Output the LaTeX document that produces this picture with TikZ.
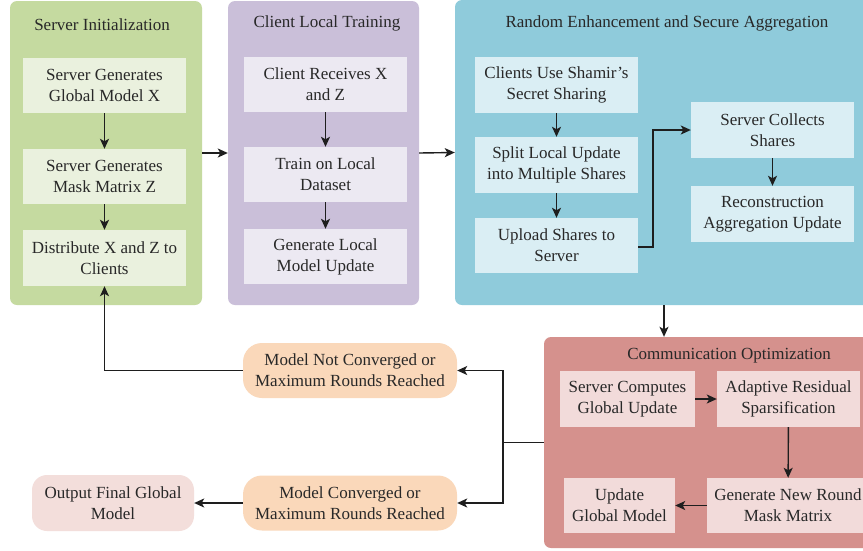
\documentclass[tikz,border=0pt]{standalone}
\usepackage{fontspec}
\setmainfont{Liberation Serif}
\usetikzlibrary{arrows.meta}
\definecolor{gpanel}{RGB}{197,218,160}
\definecolor{gbox}{RGB}{234,241,222}
\definecolor{ppanel}{RGB}{202,191,217}
\definecolor{pbox}{RGB}{236,233,242}
\definecolor{bpanel}{RGB}{143,203,219}
\definecolor{bbox}{RGB}{218,238,244}
\definecolor{rpanel}{RGB}{213,145,141}
\definecolor{rbox}{RGB}{242,219,218}
\definecolor{ovalfill}{RGB}{250,216,186}
\definecolor{outfill}{RGB}{243,222,219}
\definecolor{txt}{RGB}{40,40,40}
\definecolor{ln}{RGB}{30,30,30}
\tikzset{
  panel/.style={rounded corners=7pt, inner sep=0pt},
  ptitle/.style={text=txt, inner sep=0pt},
  stepbox/.style={inner sep=0pt, minimum width=163pt, minimum height=55pt, align=center, text=txt},
  pill/.style={inner sep=0pt, minimum width=214pt, minimum height=55pt, align=center, text=txt, fill=ovalfill, rounded corners=19pt},
  arr/.style={draw=ln, line width=1.4pt, -{Stealth[length=10pt,width=9pt,inset=2.5pt]}},
  ln/.style={draw=ln, line width=1.4pt},
}
\begin{document}
\begin{tikzpicture}[x=1pt, y=-1pt, font=\fontsize{17}{21}\selectfont]
\clip (0,0) rectangle (863,550);
\fill[white] (0,0) rectangle (863,550);

% ---- Server initialization ----
\node[panel, fill=gpanel, minimum width=192pt, minimum height=304pt] (gp) at (106,153) {};
\node[ptitle] (gt) at (102,25) {Server Initialization};
\node[stepbox, fill=gbox] (g1) at (104.5,85.5) {Server Generates\\Global Model X};
\node[stepbox, fill=gbox] (g2) at (104.5,176.5) {Server Generates\\Mask Matrix Z};
\node[stepbox, fill=gbox, minimum height=56pt] (g3) at (104.5,258) {Distribute X and Z to\\Clients};

% ---- Client local training ----
\node[panel, fill=ppanel, minimum width=191pt, minimum height=304pt] (pp) at (323.5,153) {};
\node[ptitle] (pt) at (327,23.5) {Client Local Training};
\node[stepbox, fill=pbox] (p1) at (325.5,84.5) {Client Receives X\\and Z};
\node[stepbox, fill=pbox] (p2) at (325.5,174.5) {Train on Local\\Dataset};
\node[stepbox, fill=pbox] (p3) at (325.5,256.5) {Generate Local\\Model Update};

% ---- Random enhancement and secure aggregation ----
\node[panel, fill=bpanel, minimum width=425pt, minimum height=305pt] (bp) at (667.5,152.5) {};
\node[ptitle] (bt) at (667,23.5) {Random Enhancement and Secure Aggregation};
\node[stepbox, fill=bbox, minimum height=56pt] (b1) at (556.5,85) {Clients Use Shamir’s\\Secret Sharing};
\node[stepbox, fill=bbox, minimum height=56pt] (b2) at (556.5,165) {Split Local Update\\into Multiple Shares};
\node[stepbox, fill=bbox] (b3) at (556.5,245.5) {Upload Shares to\\Server};
\node[stepbox, fill=bbox, minimum height=56pt] (b4) at (772.5,130) {Server Collects\\Shares};
\node[stepbox, fill=bbox, minimum height=56pt] (b5) at (772.5,214) {Reconstruction\\Aggregation Update};

% ---- Communication optimization ----
\node[panel, fill=rpanel, minimum width=336pt, minimum height=211pt] (rp) at (712,442.5) {};
\node[ptitle] (rt) at (729,355.5) {Communication Optimization};
\node[stepbox, fill=rbox, minimum width=135pt, minimum height=56pt] (r1) at (627.5,399) {Server Computes\\Global Update};
\node[stepbox, fill=rbox, minimum width=143pt, minimum height=56pt] (r2) at (788.5,399) {Adaptive Residual\\Sparsification};
\node[stepbox, fill=rbox, minimum width=162pt] (r3) at (788,505.5) {Generate New Round\\Mask Matrix};
\node[stepbox, fill=rbox, minimum width=111pt] (r4) at (619.5,505.5) {Update\\Global Model};

% ---- Convergence decisions ----
\node[pill] (nc) at (350,370.5) {Model Not Converged or\\Maximum Rounds Reached};
\node[pill] (cv) at (350,503) {Model Converged or\\Maximum Rounds Reached};
\node[stepbox, fill=outfill, rounded corners=15pt, minimum width=162pt, minimum height=56pt] (out) at (113,503) {Output Final Global\\Model};

% ---- connectors ----
\draw[arr] (g1) -- (g2);
\draw[arr] (g2) -- (g3);
\draw[arr] (gp.east) -- (pp.west);
\draw[arr] (p1) -- (p2);
\draw[arr] (p2) -- (p3);
\draw[arr] (pp.east) -- (bp.west);
\draw[arr] (b1) -- (b2);
\draw[arr] (b2) -- (b3);
\coordinate (bend) at (653,247);
\draw[arr] (b3.east |- bend) -- (bend) |- (b4.west);
\draw[arr] (b4) -- (b5);
\coordinate (bdrop) at (664,305);
\draw[arr] (bdrop) -- (bdrop |- rp.north);
\draw[arr] (r1) -- (r2);
\draw[arr] (r2) -- (r3);
\draw[arr] (r3) -- (r4);
\coordinate (split) at (503,442.5);
\draw[ln] (rp.west) -- (split);
\draw[arr] (split) |- (nc.east);
\draw[arr] (split) |- (cv.east);
\draw[arr] (nc.west) -| (g3.south);
\draw[arr] (cv.west) -- (out.east);
\end{tikzpicture}
\end{document}
